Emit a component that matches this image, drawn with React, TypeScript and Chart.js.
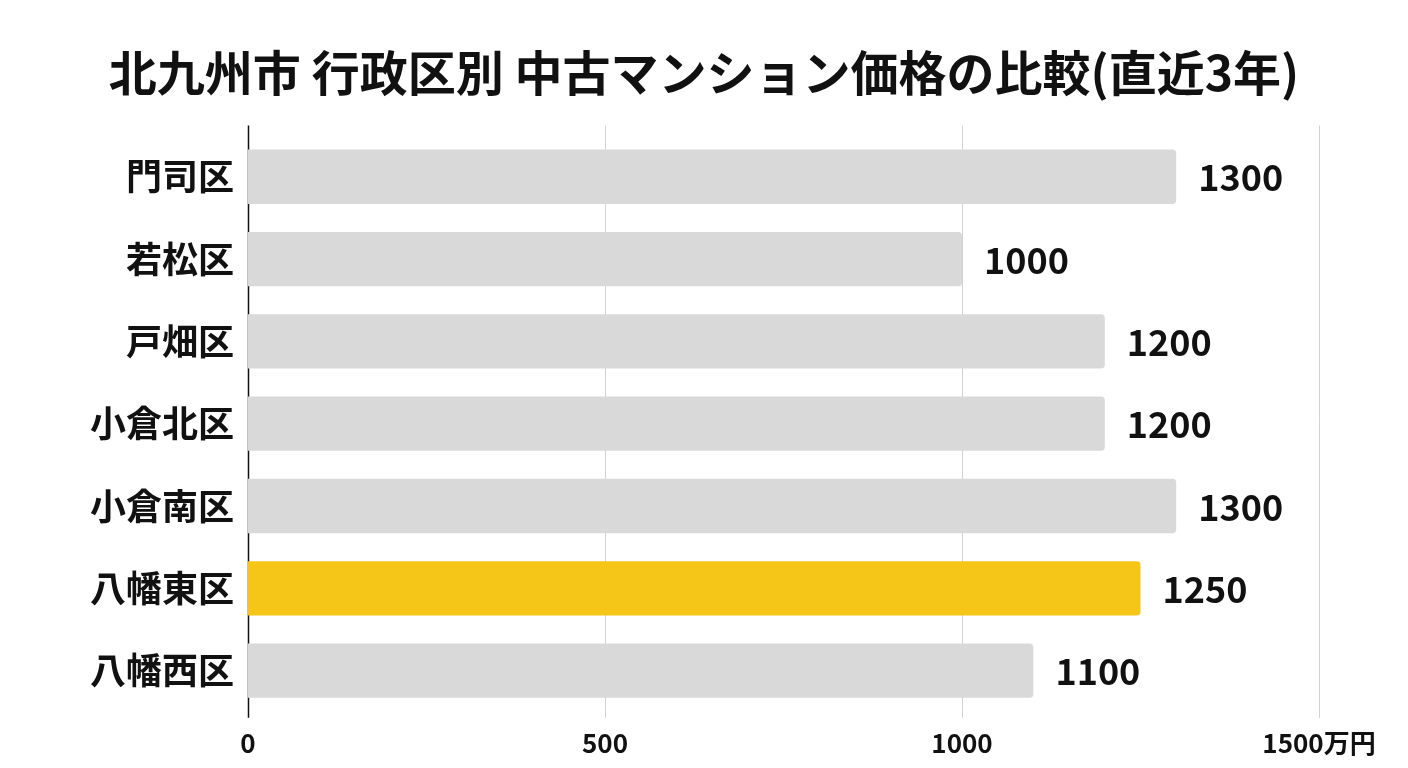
import React, { useEffect, useRef } from "react";
import Chart from "chart.js/auto";

const districts = ["門司区", "若松区", "戸畑区", "小倉北区", "小倉南区", "八幡東区", "八幡西区"];
const prices = [1300, 1000, 1200, 1200, 1300, 1250, 1100];
const highlighted = "八幡東区";
const xTicks = [0, 500, 1000, 1500];
const unit = "万円";

const FONT = "'Noto Sans CJK JP', 'Noto Sans', sans-serif";

const gridPlugin = {
  id: "extendedGrid",
  beforeDatasetsDraw(chart: any) {
    const { ctx, chartArea, scales } = chart;
    ctx.save();
    xTicks.forEach((t) => {
      const x = Math.round(scales.x.getPixelForValue(t)) + 0.5;
      ctx.beginPath();
      ctx.strokeStyle = t === 0 ? "#111111" : "#d2d2d2";
      ctx.lineWidth = t === 0 ? 1.5 : 1;
      ctx.moveTo(x, chartArea.top - 10);
      ctx.lineTo(x, chartArea.bottom + 6);
      ctx.stroke();
    });
    ctx.restore();
  },
};

const valueLabels = {
  id: "valueLabels",
  afterDatasetsDraw(chart: any) {
    const { ctx } = chart;
    const meta = chart.getDatasetMeta(0);
    ctx.save();
    ctx.font = `bold 36px ${FONT}`;
    ctx.fillStyle = "#111111";
    ctx.textAlign = "left";
    ctx.textBaseline = "middle";
    meta.data.forEach((bar: any, i: number) => {
      ctx.fillText(String(prices[i]), bar.x + 22, bar.y + 1);
    });
    ctx.restore();
  },
};

export default function App() {
  const canvasRef = useRef<HTMLCanvasElement | null>(null);

  useEffect(() => {
    document.body.style.margin = "0";
    if (!canvasRef.current) return;
    const chart = new Chart(canvasRef.current, {
      type: "bar",
      data: {
        labels: districts,
        datasets: [
          {
            data: prices,
            backgroundColor: districts.map((d) => (d === highlighted ? "#f5c518" : "#d9d9d9")),
            borderRadius: 4,
            borderSkipped: "start",
            categoryPercentage: 1,
            barPercentage: 0.66,
          },
        ],
      },
      options: {
        indexAxis: "y",
        animation: false,
        responsive: true,
        maintainAspectRatio: false,
        layout: { padding: { top: 20, bottom: -7, left: 89, right: 89 } },
        plugins: {
          legend: { display: false },
          tooltip: { enabled: false },
          title: {
            display: true,
            text: "北九州市 行政区別 中古マンション価格の比較(直近3年)",
            color: "#111111",
            font: { family: FONT, size: 48, weight: "bold", lineHeight: 1.2 },
            padding: { top: 24, bottom: 34 },
          },
        },
        scales: {
          x: {
            min: 0,
            max: 1500,
            grid: { display: false, drawTicks: false },
            border: { display: false },
            ticks: {
              stepSize: 500,
              padding: 16,
              color: "#111111",
              font: { family: FONT, size: 26, weight: "bold" },
              maxRotation: 0,
              callback: (v: any) => (Number(v) === 1500 ? `${v}${unit}` : `${v}`),
            },
          },
          y: {
            grid: { display: false, drawTicks: false },
            border: { display: false },
            afterFit: (scale: any) => {
              scale.width = 159;
            },
            ticks: {
              padding: 14,
              color: "#111111",
              font: { family: FONT, size: 36, weight: "bold" },
            },
          },
        },
      },
      plugins: [gridPlugin, valueLabels],
    });
    return () => chart.destroy();
  }, []);

  return (
    <div style={{ width: 1408, height: 768, position: "relative" }}>
      <canvas ref={canvasRef} />
    </div>
  );
}
